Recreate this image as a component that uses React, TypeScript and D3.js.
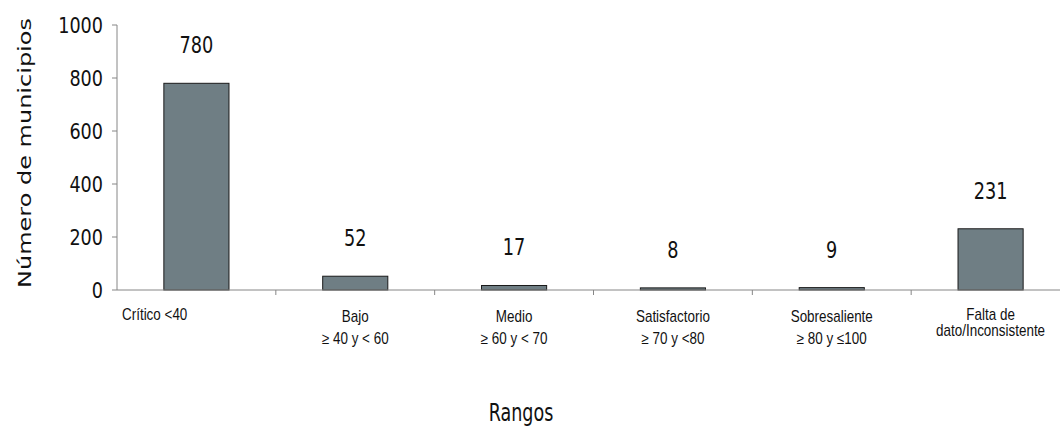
import React from "react";
import * as d3 from "d3";

const categories = ["Crítico", "Bajo", "Medio", "Satisfactorio", "Sobresaliente", "Falta"];
const values = [780, 52, 17, 8, 9, 231];
const categoryLabels: string[][] = [
  ["Crítico <40"],
  ["Bajo", "≥ 40 y < 60"],
  ["Medio", "≥ 60 y < 70"],
  ["Satisfactorio", "≥ 70 y <80"],
  ["Sobresaliente", "≥ 80 y ≤100"],
  ["Falta de", "dato/Inconsistente"],
];
const yTicks = [0, 200, 400, 600, 800, 1000];
const yTitle = "Número de municipios";
const xTitle = "Rangos";

const W = 1060;
const H = 427;
const left = 117;
const right = 1070;
const top = 25;
const bottom = 290;

export default function App() {
  const x = d3.scaleBand<string>().domain(categories).range([left, right]).padding(0);
  const y = d3.scaleLinear().domain([0, 1000]).range([bottom, top]);
  const bw = x.bandwidth() * 0.41;
  const axisColor = "#868686";
  const narrow = "'Liberation Sans', Arial, sans-serif";
  const dejavu = "'DejaVu Sans', Verdana, sans-serif";

  return (
    <svg
      width={W}
      height={H}
      style={{ position: "absolute", left: 0, top: 0, background: "#fff" }}
    >
      {/* bars */}
      {categories.map((c, i) => {
        const cx = (x(c) as number) + x.bandwidth() / 2;
        return (
          <g key={c}>
            <rect
              x={cx - bw / 2}
              y={y(values[i])}
              width={bw}
              height={bottom - y(values[i])}
              fill="#6f7e84"
              stroke="#1a1a1a"
              strokeWidth={1}
            />
            <text
              transform={`translate(${cx},${y(values[i]) - 30}) scale(0.77,1)`}
              textAnchor="middle"
              fontFamily={dejavu}
              fontSize={23}
              fill="#111"
            >
              {values[i]}
            </text>
          </g>
        );
      })}

      {/* y axis */}
      <line x1={left} x2={left} y1={top} y2={bottom} stroke={axisColor} strokeWidth={1} />
      {yTicks.map((t) => (
        <g key={t}>
          <line x1={left - 5} x2={left} y1={y(t)} y2={y(t)} stroke={axisColor} />
          <text
            transform={`translate(${left - 14},${y(t)}) scale(0.8,1)`}
            textAnchor="end"
            dy="0.36em"
            fontFamily={dejavu}
            fontSize={22}
            fill="#111"
          >
            {t}
          </text>
        </g>
      ))}

      {/* x axis */}
      <line x1={left} x2={right} y1={bottom} y2={bottom} stroke={axisColor} strokeWidth={1} />
      {categories.map((c) => (
        <line
          key={"t" + c}
          x1={(x(c) as number) + x.bandwidth()}
          x2={(x(c) as number) + x.bandwidth()}
          y1={bottom}
          y2={bottom + 5}
          stroke={axisColor}
        />
      ))}
      {categories.map((c, i) => {
        const lines = categoryLabels[i];
        const single = lines.length === 1;
        const cx = single
          ? (x(c) as number) + 5
          : (x(c) as number) + x.bandwidth() / 2;
        const gap = lines[1] && lines[1].startsWith("≥") ? 22 : 16;
        const y0 = lines[1] && lines[1].startsWith("≥") ? 322 : 320;
        return (
          <g key={"l" + c}>
            {lines.map((ln, j) => (
              <text
                key={j}
                transform={`translate(${cx},${y0 + j * gap}) scale(0.84,1)`}
                textAnchor={single ? "start" : "middle"}
                fontFamily={narrow}
                fontSize={16}
                fill="#111"
              >
                {ln}
              </text>
            ))}
          </g>
        );
      })}

      {/* titles */}
      <text
        transform={`translate(31,153) scale(0.73,1) rotate(-90)`}
        textAnchor="middle"
        fontFamily={dejavu}
        fontSize={24}
        fill="#111"
      >
        {yTitle}
      </text>
      <text
        transform={`translate(521,421) scale(0.73,1)`}
        textAnchor="middle"
        fontFamily={dejavu}
        fontSize={24}
        fill="#111"
      >
        {xTitle}
      </text>
    </svg>
  );
}
